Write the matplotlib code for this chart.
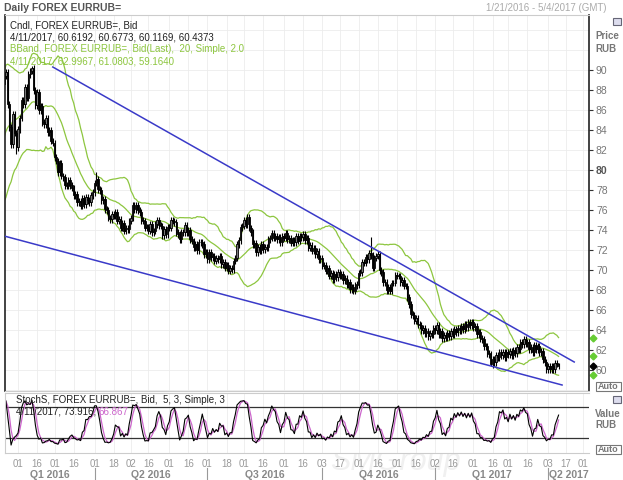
import numpy as np
import pandas as pd
import matplotlib
matplotlib.use('Agg')
import matplotlib.pyplot as plt
from matplotlib.transforms import blended_transform_factory
from matplotlib.patches import Rectangle

plt.rcParams['font.family'] = ['Liberation Sans', 'DejaVu Sans']

# daily closes, 21 Jan 2016 .. 11 Apr 2017 (weekdays)
closes = [
    89.8, 86.6, 84.3, 82.6, 85.6, 83.7, 82.3, 84.1, 85.2, 87.0,
    86.6, 88.3, 87.2, 89.6, 89.9, 90.2, 88.0, 86.5, 87.8, 86.0,
    86.4, 84.8, 84.6, 85.2, 83.8, 84.0, 82.9, 82.7, 81.3, 80.9,
    79.8, 80.7, 79.4, 79.3, 78.5, 78.4, 79.0, 78.5, 78.2, 77.5,
    77.6, 76.8, 76.9, 76.4, 77.2, 76.6, 77.3, 77.0, 76.8, 77.5,
    77.8, 78.7, 79.1, 78.1, 78.0, 77.0, 77.1, 76.1, 76.0, 75.2,
    75.1, 75.6, 75.4, 75.8, 74.9, 75.1, 74.2, 74.7, 73.9, 74.2,
    74.1, 74.9, 75.2, 76.5, 76.1, 76.5, 76.0, 75.8, 75.0, 74.9,
    74.2, 74.3, 73.9, 74.6, 73.8, 73.9, 74.6, 75.0, 74.5, 74.4,
    73.5, 74.1, 73.6, 74.3, 74.2, 75.0, 74.9, 74.8, 73.8, 73.6,
    73.1, 73.8, 73.8, 74.5, 73.8, 74.0, 73.1, 72.9, 72.3, 72.6,
    72.0, 72.8, 72.8, 72.6, 71.6, 71.8, 71.1, 71.8, 71.3, 71.4,
    70.9, 71.2, 71.1, 71.4, 70.6, 70.8, 70.2, 70.5, 69.9, 70.2,
    70.1, 70.9, 71.2, 72.6, 73.0, 74.3, 74.4, 75.0, 74.6, 75.3,
    74.2, 73.8, 72.6, 72.7, 71.8, 72.3, 72.0, 72.6, 72.1, 72.3,
    72.3, 73.1, 73.2, 73.7, 73.2, 73.4, 73.1, 73.3, 72.8, 73.4,
    73.2, 73.7, 73.1, 73.2, 72.7, 73.0, 72.8, 73.4, 72.9, 73.4,
    73.3, 73.6, 73.0, 73.2, 72.2, 72.5, 71.9, 72.2, 71.6, 71.9,
    71.1, 71.2, 70.4, 70.5, 69.9, 70.2, 69.4, 69.7, 69.1, 69.6,
    69.3, 69.8, 69.5, 69.6, 69.0, 69.2, 68.6, 68.8, 68.1, 68.3,
    67.9, 68.5, 68.6, 69.7, 69.8, 70.8, 70.7, 71.3, 71.1, 71.7,
    71.5, 70.2, 71.2, 71.4, 71.6, 70.0, 69.8, 68.8, 68.8, 68.0,
    68.3, 67.9, 68.7, 68.7, 69.5, 69.4, 69.4, 68.8, 69.0, 68.4,
    68.4, 67.3, 66.6, 65.6, 65.5, 64.9, 65.2, 64.6, 64.5, 64.0,
    64.2, 63.7, 63.9, 63.4, 63.7, 63.6, 64.2, 64.0, 64.5, 63.6,
    63.9, 63.2, 63.5, 63.3, 63.7, 63.4, 63.9, 63.6, 64.1, 63.8,
    64.2, 64.0, 64.4, 64.1, 64.6, 64.3, 64.8, 64.5, 64.8, 64.3,
    64.4, 63.6, 63.8, 63.2, 63.1, 62.4, 62.4, 61.7, 61.6, 60.6,
    61.1, 60.8, 61.5, 61.3, 61.8, 61.5, 61.8, 61.3, 61.8, 61.6,
    61.9, 61.5, 62.0, 61.7, 62.3, 62.1, 62.8, 62.6, 63.1, 62.7,
    62.8, 62.1, 62.3, 61.8, 62.5, 62.1, 62.4, 61.8, 61.9, 61.1,
    60.8, 60.1, 60.4, 60.1, 60.4, 60.1, 60.7, 60.62, 60.4373,
]
# closes before the visible window, only used to warm up the indicators
pre_closes = [78.6, 79.2, 79.8, 80.1, 80.0, 80.6, 81.0, 81.3, 81.9, 82.6,
              83.4, 84.0, 84.3, 85.0, 85.6, 86.2, 86.9, 87.5, 88.6, 89.4]
# a few wicks that stick out
spike_high = {52: 79.8, 210: 73.3, 15: 90.4}
spike_low = {279: 60.4, 6: 81.6}

tick_dates = ['2016-02-01', '2016-02-16', '2016-03-01', '2016-03-16', '2016-04-01',
              '2016-04-18', '2016-05-02', '2016-05-16', '2016-06-01', '2016-06-16',
              '2016-07-01', '2016-07-18', '2016-08-01', '2016-08-16', '2016-09-01',
              '2016-09-16', '2016-10-03', '2016-10-17', '2016-11-01', '2016-11-16',
              '2016-12-01', '2016-12-16', '2017-01-02', '2017-01-16', '2017-02-01',
              '2017-02-16', '2017-03-01', '2017-03-16', '2017-04-03', '2017-04-17',
              '2017-05-01']
quarter_starts = ['2016-04-01', '2016-07-01', '2016-10-03', '2017-01-02', '2017-04-03']
quarter_labels = ['Q1 2016', 'Q2 2016', 'Q3 2016', 'Q4 2016', 'Q1 2017', 'Q2 2017']

# trend lines (date, price)
upper_trend = [('2016-02-29', 90.3), ('2017-04-24', 60.8)]
lower_trend = [('2016-01-20', 73.4), ('2017-04-13', 58.5)]

W, H = 623, 480
def px(x, y):
    return x / W, 1 - y / H

full_days = pd.bdate_range('2016-01-21', '2017-05-04')
def pos(d):
    d = pd.Timestamp(d)
    if d >= full_days[0]:
        return float(full_days.get_loc(d))
    return -float(len(pd.bdate_range(d, '2016-01-20')))

allc = np.array(pre_closes + closes)
x = np.arange(len(allc)) - len(pre_closes)
o = np.r_[allc[0], allc[:-1]]
o[-1] = 60.6192
hi = np.maximum(o, allc) + 0.35
lo = np.minimum(o, allc) - 0.35
hi[-1], lo[-1] = 60.6773, 60.1169
for k, v in spike_high.items():
    hi[k + len(pre_closes)] = v
for k, v in spike_low.items():
    lo[k + len(pre_closes)] = v

s = pd.Series(allc)
mid = s.rolling(20).mean()
sd = s.rolling(20).std(ddof=0)
bb_up, bb_lo = mid + 2 * sd, mid - 2 * sd

hh = pd.Series(hi).rolling(5).max()
ll = pd.Series(lo).rolling(5).min()
fastk = 100 * (s - ll) / (hh - ll)
slowk = fastk.rolling(3).mean()
slowd = slowk.rolling(3).mean()

fig = plt.figure(figsize=(W / 100, H / 100), dpi=100)
ax = fig.add_axes([5 / W, 1 - 391 / H, 584 / W, 376 / H])
ax2 = fig.add_axes([5 / W, 1 - 453 / H, 584 / W, 60 / H])

xmin, xmax = -0.5, len(full_days) - 0.5
green = '#8dc63f'
grid_c = '#ececec'
tpos = [pos(d) for d in tick_dates]

# --- price panel
for xx in tpos:
    ax.axvline(xx, color=grid_c, lw=0.6, zorder=0)
for yy in range(58, 96, 2):
    ax.axhline(yy, color=grid_c, lw=0.6, zorder=0)

ax.plot(x, bb_up, color=green, lw=0.9)
ax.plot(x, mid, color=green, lw=0.9)
ax.plot(x, bb_lo, color=green, lw=0.9)

up = allc >= o
ax.vlines(x, lo, hi, color='black', lw=0.8, zorder=3)
ax.bar(x[up], (allc - o)[up], bottom=o[up], width=0.8, color='#777777',
       edgecolor='black', lw=0.6, zorder=4)
ax.bar(x[~up], (allc - o)[~up], bottom=o[~up], width=0.8, color='black',
       edgecolor='black', lw=0.6, zorder=4)

for line in (upper_trend, lower_trend):
    ax.plot([pos(line[0][0]), pos(line[1][0])], [line[0][1], line[1][1]],
            color='#3a3ac8', lw=1.1, zorder=5)

ax.set_xlim(xmin, xmax)
ax.set_ylim(57.9, 95.5)
ax.yaxis.tick_right()
ax.set_yticks(range(60, 92, 2))
ax.tick_params(axis='y', length=3, width=0.8, color='#333', labelsize=7.5,
               labelcolor='#777', pad=2)
for t in ax.get_yticklabels():
    if t.get_text() == '80':
        t.set_color('#555')
        t.set_fontweight('bold')
ax.set_xticks([])
for side in ('left', 'right'):
    ax.spines[side].set_color('#222')
    ax.spines[side].set_linewidth(1.2)
for side in ('top', 'bottom'):
    ax.spines[side].set_color('#cccccc')
    ax.spines[side].set_linewidth(0.8)

# last-value markers on the price scale
trans = blended_transform_factory(ax.transAxes, ax.transData)
for v in (bb_up.iloc[-1], mid.iloc[-1], bb_lo.iloc[-1]):
    ax.plot(1.007, v, marker='D', ms=3.5, color='#66cc33', transform=trans, clip_on=False)
ax.plot(1.007, allc[-1], marker='D', ms=3.5, color='black', transform=trans, clip_on=False)

# --- stochastic panel
for xx in tpos:
    ax2.axvline(xx, color=grid_c, lw=0.6, zorder=0)
ax2.axhline(80, color='#333', lw=0.9)
ax2.axhline(20, color='#333', lw=0.9)
ax2.plot(x, slowd, color='#cc66cc', lw=0.9)
ax2.plot(x, slowk, color='black', lw=0.8)
ax2.set_xlim(xmin, xmax)
ax2.set_ylim(-9, 107)
ax2.set_yticks([])
ax2.set_xticks(tpos)
ax2.set_xticklabels([pd.Timestamp(d).strftime('%d') for d in tick_dates])
ax2.tick_params(axis='x', length=0, labelsize=7, labelcolor='#999', pad=4)
for side in ax2.spines:
    ax2.spines[side].set_color('#cccccc')
    ax2.spines[side].set_linewidth(0.8)
ax2.spines['right'].set_visible(False)

# quarter row
qtrans = blended_transform_factory(ax2.transData, ax2.transAxes)
qb = [xmin] + [pos(d) for d in quarter_starts] + [xmax]
for i, lab in enumerate(quarter_labels):
    ax2.text((qb[i] + qb[i + 1]) / 2, -0.37, lab, transform=qtrans, ha='center',
             va='center', fontsize=7.5, color='#888', fontweight='bold')
for b in qb[1:-1]:
    ax2.plot([b, b], [-0.25, -0.45], transform=qtrans, color='#999', lw=0.8, clip_on=False)

# --- texts
fig.text(*px(4, 8), 'Daily FOREX EURRUB=', fontsize=7.5, fontweight='bold',
         color='#555', va='center')
fig.text(*px(486, 8), '1/21/2016 - 5/4/2017 (GMT)', fontsize=7, color='#aaa', va='center')
fig.text(*px(10, 25), 'Cndl, FOREX EURRUB=, Bid', fontsize=7, color='#222', va='center')
fig.text(*px(10, 37), '4/11/2017, 60.6192, 60.6773, 60.1169, 60.4373', fontsize=7,
         color='#222', va='center')
fig.text(*px(10, 49), 'BBand, FOREX EURRUB=, Bid(Last),  20, Simple, 2.0', fontsize=7,
         color=green, va='center')
fig.text(*px(10, 61), '4/11/2017, 62.9967, 61.0803, 59.1640', fontsize=7,
         color=green, va='center')
fig.text(*px(16, 400), 'StochS, FOREX EURRUB=, Bid,  5, 3, Simple, 3', fontsize=7,
         color='#222', va='center')
t1 = fig.text(*px(16, 412), '4/11/2017, 73.916, ', fontsize=7, color='#222', va='center')
fig.canvas.draw()
ext = t1.get_window_extent(fig.canvas.get_renderer())
fig.text(*px(16 + ext.width, 412), '66.867', fontsize=7, color='#cc66cc', va='center')

lab_kw = dict(fontsize=7, fontweight='bold', color='#777', va='center')
fig.text(*px(595, 36), 'Price', **lab_kw)
fig.text(*px(595, 49), 'RUB', **lab_kw)
fig.text(*px(595, 414), 'Value', **lab_kw)
fig.text(*px(595, 425), 'RUB', **lab_kw)
for yb in (382, 445):
    fig.patches.append(Rectangle(px(596, yb + 9), 25 / W, 9 / H, transform=fig.transFigure,
                                 fill=False, ec='#777', lw=0.8))
    fig.text(*px(597.5, yb + 4.5), 'Auto', fontsize=6.5, fontweight='bold', color='#777',
             va='center')
for yb in (18, 396):
    fig.patches.append(Rectangle(px(613, yb + 7), 8 / W, 7 / H, transform=fig.transFigure,
                                 fc='#dde', ec='#667', lw=0.8))

# faint watermark, drawn behind everything
fig.text(*px(330, 462), 'SMGroup', fontsize=22, style='italic', color='#f0f0f0',
         va='center', zorder=-1)

fig.savefig('out.png', dpi=100)
